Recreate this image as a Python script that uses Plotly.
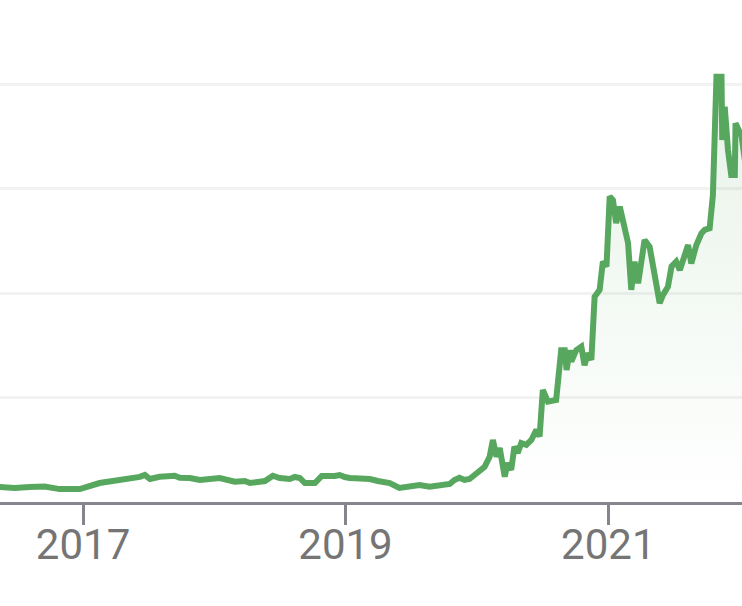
import plotly.graph_objects as go

dates = [
    "2016-05-01", "2016-05-15", "2016-06-25", "2016-08-05", "2016-09-16", "2016-10-28",
    "2016-12-01", "2016-12-23", "2017-02-16", "2017-03-16", "2017-04-13", "2017-05-11",
    "2017-06-08", "2017-06-22", "2017-07-06", "2017-08-02", "2017-09-13", "2017-09-27",
    "2017-10-25", "2017-11-22", "2017-12-20", "2018-01-16", "2018-02-27", "2018-03-27",
    "2018-04-10", "2018-04-24", "2018-05-22", "2018-06-13", "2018-07-02", "2018-07-30",
    "2018-08-13", "2018-08-27", "2018-09-10", "2018-10-08", "2018-10-27", "2018-12-02",
    "2018-12-16", "2018-12-30", "2019-01-13", "2019-02-10", "2019-03-10", "2019-04-01",
    "2019-04-20", "2019-05-04", "2019-05-31", "2019-06-28", "2019-07-26", "2019-08-23",
    "2019-09-20", "2019-10-18", "2019-10-31", "2019-11-14", "2019-11-28", "2019-12-12",
    "2019-12-26", "2020-01-09", "2020-01-23", "2020-02-06", "2020-02-15", "2020-02-25",
    "2020-03-05", "2020-03-19", "2020-03-27", "2020-04-06", "2020-04-15", "2020-04-24",
    "2020-05-04", "2020-05-18", "2020-06-01", "2020-06-15", "2020-06-24", "2020-07-03",
    "2020-07-17", "2020-08-09", "2020-08-23", "2020-09-02", "2020-09-07", "2020-09-16",
    "2020-09-20", "2020-10-04", "2020-10-18", "2020-10-27", "2020-11-05", "2020-11-15",
    "2020-11-24", "2020-12-08", "2020-12-17", "2020-12-27", "2021-01-05", "2021-01-14",
    "2021-01-23", "2021-02-02", "2021-02-11", "2021-02-25", "2021-03-06", "2021-03-15",
    "2021-03-25", "2021-04-12", "2021-04-26", "2021-05-10", "2021-05-24", "2021-06-02",
    "2021-06-16", "2021-06-26", "2021-07-09", "2021-07-19", "2021-07-28", "2021-08-11",
    "2021-08-20", "2021-09-03", "2021-09-17", "2021-09-26", "2021-10-10", "2021-10-19",
    "2021-10-29", "2021-11-12", "2021-11-14", "2021-11-21", "2021-11-30", "2021-12-09",
    "2021-12-19", "2021-12-21", "2022-01-07", "2022-01-20",
]
prices = [
    44, 43, 40, 43, 44.5, 37,
    36, 37, 54.5, 58, 63, 66,
    72, 77.5, 66, 72.6, 75.5, 69.8,
    68.9, 63.2, 66, 68.9, 58.3, 60.3,
    54.5, 56.6, 60.3, 75.5, 68.9, 66,
    71.8, 68.9, 54.5, 54.5, 74.6, 74.6,
    77.5, 71.8, 68.9, 67.5, 66, 60.3,
    58.3, 54.5, 40.2, 43.9, 48.8, 43.9,
    48.8, 51.7, 63.2, 69.8, 63.2, 66,
    77.5, 87, 101, 130, 178, 130,
    155, 72.6, 112, 92, 159, 141,
    169, 164, 178, 207, 188, 322,
    288, 293, 436, 436, 379, 436,
    403, 436, 446, 393, 427, 408,
    589, 609, 690, 676, 877, 867,
    801, 848, 801, 744, 609, 690,
    628, 752, 733, 647, 571, 594,
    618, 676, 690, 666, 695, 738,
    685, 738, 771, 781, 786, 880,
    1221, 1221, 1039, 1135, 1011, 939,
    939, 1087, 1050, 950,
]

tick_dates = ["2017-01-01", "2019-01-01", "2021-01-01"]
tick_labels = ["2017", "2019", "2021"]
grid_values = [0, 300, 600, 900, 1200]

line_color = "rgb(87,168,94)"

fig = go.Figure()
fig.add_trace(go.Scatter(
    x=dates, y=prices, mode="lines",
    line=dict(color=line_color, width=6),
    fill="tozeroy",
    fillgradient=dict(
        type="vertical",
        colorscale=[[0, "rgba(87,168,94,0)"], [1, "rgba(87,168,94,0.14)"]],
    ),
    hoverinfo="skip",
))

fig.update_layout(
    width=742, height=606,
    margin=dict(l=0, r=0, t=10, b=104),
    paper_bgcolor="white", plot_bgcolor="white",
    showlegend=False,
    font=dict(family="Roboto", color="#757575"),
    xaxis=dict(
        range=["2016-05-15", "2022-01-08"],
        tickvals=tick_dates, ticktext=tick_labels,
        ticks="outside", ticklen=20, tickwidth=3, tickcolor="#85858d",
        ticklabelstandoff=-16,
        showline=True, linecolor="#85858d", linewidth=3,
        showgrid=False, zeroline=False,
        tickfont=dict(family="Roboto", size=42, color="#757575"),
    ),
    yaxis=dict(
        range=[0, 1200 * 492 / 418],
        tickvals=grid_values,
        showticklabels=False,
        showgrid=True, gridcolor="#f2f2f2", gridwidth=3,
        zeroline=False, showline=False,
    ),
)

fig.write_html(
    "out.html",
    config={"displayModeBar": False, "staticPlot": True},
    post_script="document.body.style.margin='0px';",
)
